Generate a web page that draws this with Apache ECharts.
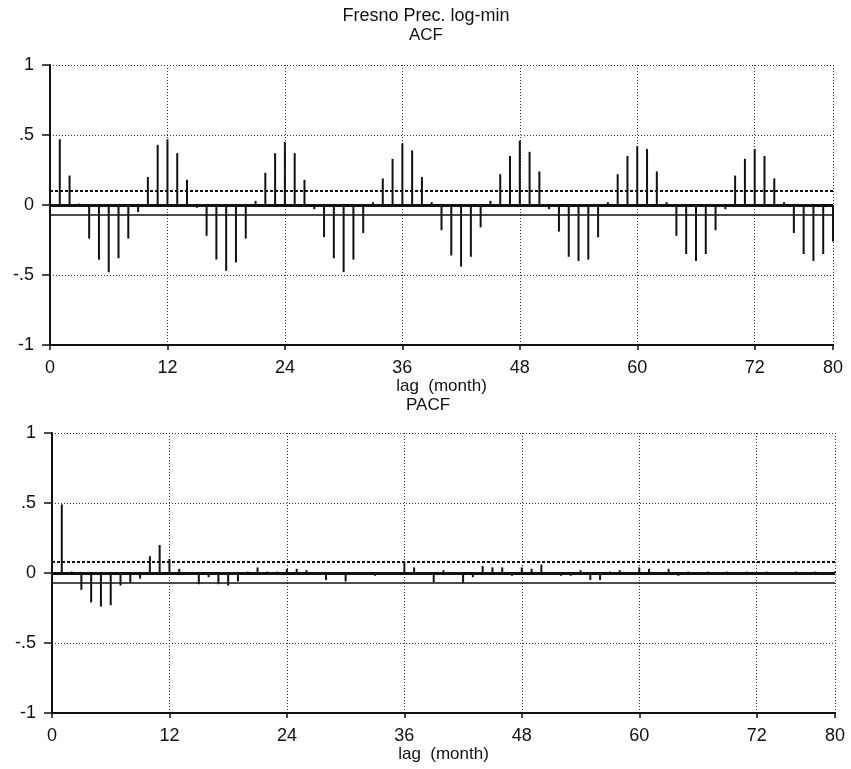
<!DOCTYPE html>
<html>
<head>
<meta charset="utf-8">
<script src="https://cdn.jsdelivr.net/npm/echarts@6/dist/echarts.min.js"></script>
<style>
  html, body { margin: 0; padding: 0; background: #fff; }
  #chart { width: 851px; height: 769px; }
</style>
</head>
<body>
<div id="chart"></div>
<script>
// Autocorrelation at lags 1..80
const acfValues = [
  0.47, 0.21, 0.01, -0.24, -0.39, -0.48, -0.38, -0.24, -0.05, 0.20,
  0.43, 0.47, 0.37, 0.18, -0.02, -0.22, -0.39, -0.47, -0.41, -0.24,
  0.03, 0.23, 0.37, 0.45, 0.37, 0.18, -0.03, -0.23, -0.38, -0.48,
  -0.39, -0.20, 0.02, 0.19, 0.33, 0.44, 0.39, 0.20, 0.02, -0.18,
  -0.36, -0.44, -0.37, -0.16, 0.03, 0.22, 0.35, 0.46, 0.38, 0.24,
  -0.03, -0.19, -0.37, -0.40, -0.39, -0.23, 0.02, 0.22, 0.35, 0.42,
  0.40, 0.24, 0.02, -0.22, -0.35, -0.40, -0.35, -0.18, -0.03, 0.21,
  0.33, 0.40, 0.35, 0.19, 0.02, -0.20, -0.35, -0.40, -0.35, -0.26
];

// Partial autocorrelation at lags 1..80
const pacfValues = [
  0.49, 0.01, -0.12, -0.21, -0.24, -0.23, -0.09, -0.07, -0.04, 0.12,
  0.20, 0.10, 0.03, 0.00, -0.08, -0.03, -0.08, -0.09, -0.06, 0.01,
  0.04, 0.01, 0.01, 0.03, 0.03, 0.02, 0.00, -0.05, 0.00, -0.06,
  0.00, -0.01, -0.02, -0.01, 0.00, 0.08, 0.04, 0.00, -0.065, 0.02,
  0.00, -0.07, -0.03, 0.05, 0.04, 0.04, -0.02, 0.04, 0.03, 0.06,
  0.00, -0.02, -0.02, 0.02, -0.05, -0.05, 0.01, 0.02, 0.00, 0.04,
  0.03, 0.00, 0.03, -0.02, 0.01, -0.01, 0.01, 0.00, 0.01, -0.01,
  0.01, 0.00, 0.01, -0.01, 0.00, 0.01, -0.01, 0.01, 0.00, 0.01
];

// Confidence band levels drawn across each panel
const acfBand = { upper: 0.095, lower: -0.07 };
const pacfBand = { upper: 0.08, lower: -0.07 };

const lagMax = 80;
const lagStep = 12;
const mainTitle = 'Fresno Prec. log-min';
const panelTitles = ['ACF', 'PACF'];
const lagAxisName = 'lag  (month)';

const FONT = "'Liberation Sans', Arial, sans-serif";
const INK = '#111';

function toPairs(values) {
  return values.map((v, i) => [i + 1, v]);
}

function corrLabel(v) {
  if (v === 0) return '0';
  const s = String(Math.abs(v)).replace(/^0/, '');
  return (v < 0 ? '-' : '') + s;
}

const grids = [
  { left: 50, top: 65, width: 783, height: 280 },
  { left: 52, top: 433, width: 783, height: 280 }
];

function makeX(gridIndex) {
  return {
    type: 'value', gridIndex, min: 0, max: lagMax, interval: lagStep,
    name: lagAxisName, nameLocation: 'middle', nameGap: 31,
    nameTextStyle: { color: INK, fontFamily: FONT, fontSize: 17 },
    axisLine: { show: true, onZero: false, lineStyle: { color: INK, width: 2 } },
    axisTick: { show: true, length: 5, lineStyle: { color: INK, width: 1.5 } },
    axisLabel: { color: INK, fontFamily: FONT, fontSize: 18, margin: 14 },
    splitLine: { show: true, lineStyle: { color: '#333', type: [1, 2], width: 1 } }
  };
}

function makeY(gridIndex) {
  return {
    type: 'value', gridIndex, min: -1, max: 1, interval: 0.5,
    axisLine: { show: true, onZero: false, lineStyle: { color: INK, width: 2 } },
    axisTick: { show: true, length: 8, lineStyle: { color: INK, width: 1.5 } },
    axisLabel: { color: INK, fontFamily: FONT, fontSize: 18, margin: 16, formatter: corrLabel },
    splitLine: { show: true, lineStyle: { color: '#333', type: [1, 2], width: 1 } }
  };
}

function bandLines(band) {
  return {
    silent: true,
    symbol: 'none',
    label: { show: false },
    animation: false,
    data: [
      { yAxis: 0, lineStyle: { color: INK, width: 3, type: 'solid' } },
      { yAxis: band.upper, lineStyle: { color: INK, width: 2, type: [3, 2] } },
      { yAxis: band.lower, lineStyle: { color: INK, width: 1.5, type: 'solid' } }
    ]
  };
}

function makeBars(name, values, idx, band, width) {
  return {
    name, type: 'bar', xAxisIndex: idx, yAxisIndex: idx,
    data: toPairs(values), barWidth: width,
    itemStyle: { color: INK },
    animation: false,
    markLine: bandLines(band)
  };
}

const titleStyle = { color: INK, fontFamily: FONT, fontSize: 17, fontWeight: 'normal' };

const chart = echarts.init(document.getElementById('chart'), null, { renderer: 'canvas' });
chart.setOption({
  backgroundColor: '#ffffff',
  animation: false,
  title: [
    { text: mainTitle, left: 421, top: 2, textAlign: 'center',
      textStyle: Object.assign({}, titleStyle, { fontSize: 18 }) },
    { text: panelTitles[0], left: 421, top: 22, textAlign: 'center', textStyle: titleStyle },
    { text: panelTitles[1], left: 423, top: 392, textAlign: 'center', textStyle: titleStyle }
  ],
  grid: grids,
  xAxis: [makeX(0), makeX(1)],
  yAxis: [makeY(0), makeY(1)],
  series: [
    makeBars('ACF', acfValues, 0, acfBand, 2),
    makeBars('PACF', pacfValues, 1, pacfBand, 2)
  ]
});
</script>
</body>
</html>
